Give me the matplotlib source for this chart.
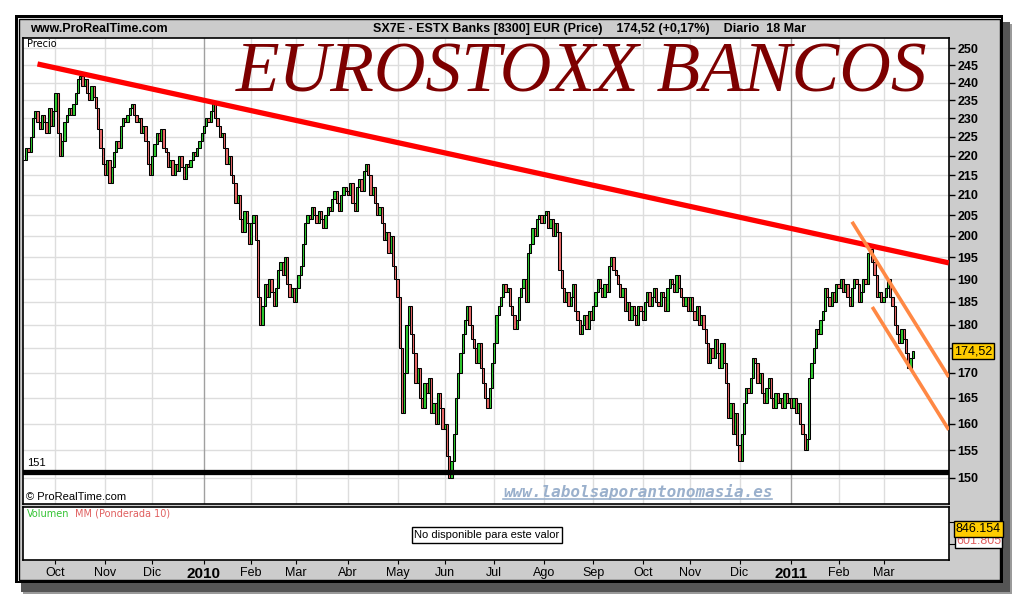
import matplotlib.pyplot as plt
from matplotlib.patches import Rectangle
import numpy as np
import pandas as pd

W, H = 1020, 600

# daily closes, 11 Sep 2009 .. 18 Mar 2011
closes = [
    # Sep 2009
    219, 222, 221, 225, 230, 232, 229, 227, 231, 229, 226, 233, 228, 232,
    # Oct
    237, 226, 220, 224, 229, 231, 233, 231, 234, 237, 241, 242, 239, 241, 237, 235,
    239, 236, 233, 227, 222, 218,
    # Nov
    215, 219, 213, 217, 221, 224, 222, 228, 230, 229, 231, 233, 234, 231, 229, 230,
    226, 228, 224, 218, 215,
    # Dec
    220, 223, 226, 224, 227, 222, 221, 217, 219, 215, 218, 216, 220, 217, 214, 218,
    217, 219, 221, 220, 222, 224, 226,
    # Jan 2010
    228, 230, 229, 232, 234, 230, 228, 225, 226, 222, 218, 220, 215, 213, 208, 210,
    204, 201, 206, 203, 198,
    # Feb
    203, 205, 199, 186, 180, 184, 189, 186, 190, 187, 184, 188, 192, 194, 191, 195,
    189, 186, 188, 185,
    # Mar
    188, 191, 193, 198, 203, 205, 204, 207, 205, 203, 206, 204, 202, 205, 207, 206,
    209, 211, 208, 206, 210, 212, 211,
    # Apr
    210, 213, 208, 206, 212, 214, 211, 216, 218, 215, 210, 212, 208, 205, 207, 203,
    199, 201, 196, 200, 193, 190,
    # May
    186, 175, 162, 170, 180, 184, 178, 174, 168, 171, 165, 163, 168, 166, 169, 162,
    164, 160, 166, 163, 159,
    # Jun
    160, 154, 150, 153, 158, 165, 170, 174, 178, 181, 184, 180, 177, 175, 172, 176,
    171, 168, 165, 163, 167, 172,
    # Jul
    176, 182, 184, 186, 189, 187, 188, 184, 182, 179, 181, 186, 188, 190, 185, 196,
    198, 202, 200, 204, 205, 203,
    # Aug
    205, 206, 202, 204, 200, 203, 201, 192, 188, 185, 187, 184, 186, 189, 183, 181,
    178, 180, 182, 179, 183, 181,
    # Sep
    184, 187, 190, 188, 186, 189, 187, 193, 195, 192, 191, 189, 186, 188, 183, 185,
    181, 184, 182, 180, 184, 183,
    # Oct
    181, 185, 187, 184, 186, 188, 185, 184, 187, 186, 183, 188, 190, 189, 187, 191,
    188, 186, 184, 186, 183,
    # Nov
    186, 183, 181, 184, 180, 182, 179, 176, 172, 175, 173, 177, 174, 171, 176, 172,
    168, 161, 164, 158, 162, 156,
    # Dec
    153, 158, 164, 167, 166, 169, 173, 172, 168, 170, 166, 164, 167, 169, 165, 163,
    166, 164, 165, 163, 166, 164, 165,
    # Jan 2011
    163, 165, 162, 164, 160, 158, 155, 157, 169, 172, 175, 179, 178, 181, 183, 188,
    186, 184, 187, 185, 189,
    # Feb
    188, 190, 187, 189, 186, 184, 188, 190, 189, 185, 187, 190, 189, 196, 197, 194,
    191, 186, 187, 185,
    # Mar
    186, 188, 190, 186, 184, 180, 178, 176, 179, 177, 174, 171, 173, 174.52,
]

# trend lines (bar index, price)
resist_x, resist_y = [6, 411], [245.4, 193.7]
chan_hi_x, chan_hi_y = [368, 411], [203.4, 169.1]
chan_lo_x, chan_lo_y = [377, 411], [183.8, 158.8]
support = 151

month_names = {1: "2010", 2: "Feb", 3: "Mar", 4: "Abr", 5: "May", 6: "Jun",
               7: "Jul", 8: "Ago", 9: "Sep", 10: "Oct", 11: "Nov", 12: "Dic"}
price_ticks = list(range(150, 251, 5))

dates = pd.bdate_range("2009-09-11", "2011-03-18")
idx = np.arange(len(closes))


def rect(x0, y0, x1, y1):
    return [x0 / W, 1 - y1 / H, (x1 - x0) / W, (y1 - y0) / H]


def ftext(x, y, s, **kw):
    return fig.text(x / W, 1 - y / H, s, **kw)


plt.rcParams['font.family'] = ['Liberation Sans', 'DejaVu Sans']
fig = plt.figure(figsize=(W / 100, H / 100), dpi=100, facecolor='white')

# frame with shadow
for (x0, y0, x1, y1), fc, ec in [((23, 24, 1012, 594), '#9a9a9a', 'none'),
                                 ((21, 22, 1010, 592), '#555555', 'none'),
                                 ((15, 15, 1003, 583), 'black', 'none'),
                                 ((17.5, 17.5, 1001, 581), 'white', 'none'),
                                 ((19, 19, 1000, 580), '#cccccc', 'black')]:
    fig.patches.append(Rectangle((x0 / W, 1 - y1 / H), (x1 - x0) / W, (y1 - y0) / H,
                                 transform=fig.transFigure, facecolor=fc,
                                 edgecolor=ec, lw=1, zorder=-5))

# month starts
mpos, mlab = [], []
for i in range(1, len(dates)):
    if dates[i].month != dates[i - 1].month:
        mpos.append(i)
        lab = month_names[dates[i].month]
        if dates[i].month == 1:
            lab = str(dates[i].year)
        mlab.append(lab)
year_pos = [p for p, l in zip(mpos, mlab) if l.isdigit()]

# price panel
ax = fig.add_axes(rect(23, 38, 949, 504))
ax.set_yscale('log')
ax.set_xlim(-0.44, 411.1)
ax.set_ylim(145.4, 253.1)
ax.set_yticks(price_ticks)
# the 175 label sits under the last-price box
ax.set_yticklabels(['' if t == 175 else str(t) for t in price_ticks],
                   fontsize=9, fontweight='bold')
ax.yaxis.set_minor_locator(plt.NullLocator())
ax.yaxis.tick_right()
ax.tick_params(axis='y', length=4, width=1, pad=2)
ax.set_xticks(mpos)
ax.tick_params(axis='x', length=0, labelbottom=False)
for t in price_ticks:
    ax.axhline(t, color='#dddddd', lw=1, zorder=0)
for p in mpos:
    ax.axvline(p, color='#a0a0a0' if p in year_pos else '#dddddd', lw=1, zorder=0)
for s in ax.spines.values():
    s.set_linewidth(1.2)

c = np.array(closes, dtype=float)
o = np.concatenate([[c[0]], c[:-1]])
lo = np.minimum(o, c)
hi = np.maximum(o, c)
cols = np.where(c >= o, '#2ec82e', '#e86868')
ax.bar(idx, hi - lo, bottom=lo, width=1.0, color=cols, edgecolor='black',
       linewidth=0.75, zorder=3)

ax.plot(resist_x, resist_y, color='#ff0000', lw=3.8, solid_capstyle='butt', zorder=4)
ax.plot(chan_hi_x, chan_hi_y, color='#ff8844', lw=2.6, solid_capstyle='butt', zorder=4)
ax.plot(chan_lo_x, chan_lo_y, color='#ff8844', lw=2.6, solid_capstyle='butt', zorder=4)
ax.axhline(support, color='black', lw=3.8, zorder=4)

# volume panel
vax = fig.add_axes(rect(23, 507, 949, 560))
vax.set_xlim(-0.44, 411.1)
vax.set_ylim(0, 1)
vax.set_xticks(mpos)
vax.set_xticklabels(mlab, fontsize=9)
for lbl in vax.get_xticklabels():
    if lbl.get_text().isdigit():
        lbl.set_fontweight('bold')
        lbl.set_fontsize(11)
vax.tick_params(axis='x', length=3, pad=2)
vax.yaxis.tick_right()
vax.set_yticks([0.3, 0.72])
vax.set_yticklabels(['', ''])
vax.tick_params(axis='y', length=4)
for s in vax.spines.values():
    s.set_linewidth(1.2)

# texts
ftext(30, 29, "www.ProRealTime.com", fontsize=9, fontweight='bold', va='center')
ftext(373, 29, "SX7E - ESTX Banks [8300] EUR (Price)    174,52 (+0,17%)    Diario  18 Mar",
      fontsize=9, fontweight='bold', va='center')
ftext(27, 44, "Precio", fontsize=7, va='center', family='DejaVu Sans')
ftext(236, 92, "EUROSTOXX BANCOS", fontsize=51.5, family='Liberation Serif',
      style='italic', color='#7d0000', va='baseline')
ftext(27, 468, "151", fontsize=8, va='bottom')
ftext(26, 497, "© ProRealTime.com", fontsize=8, va='center')
ftext(503, 497, "www.labolsaporantonomasia.es", fontsize=11.5,
      family='DejaVu Sans Mono', style='oblique', fontweight='bold',
      color='#9ab0cc', va='baseline')
fig.lines.append(plt.Line2D([503 / W, 772 / W], [1 - 499 / H, 1 - 499 / H],
                            transform=fig.transFigure, color='#9ab0cc', lw=1.2))
ftext(27, 514, "Volumen", fontsize=7, color='#33c433', va='center',
      family='DejaVu Sans')
ftext(75, 514, "MM (Ponderada 10)", fontsize=7, color='#e06060',
      va='center', family='DejaVu Sans')
ftext(487, 535, "No disponible para este valor", fontsize=8, ha='center', va='center',
      bbox=dict(boxstyle='square,pad=0.25', facecolor='white', edgecolor='black', lw=1))
ftext(954, 351, "174,52", fontsize=9, va='center', zorder=10,
      bbox=dict(boxstyle='square,pad=0.15', facecolor='#ffcc00', edgecolor='black', lw=1))
ftext(956, 541, "601.805", fontsize=9, va='center', color='#e06060', zorder=9,
      bbox=dict(boxstyle='square,pad=0.1', facecolor='white', edgecolor='black', lw=1))
ftext(956, 529, "846.154", fontsize=9, va='center', zorder=10,
      bbox=dict(boxstyle='square,pad=0.15', facecolor='#ffcc00', edgecolor='black', lw=1))

fig.savefig("out.png", dpi=100, facecolor='white')
